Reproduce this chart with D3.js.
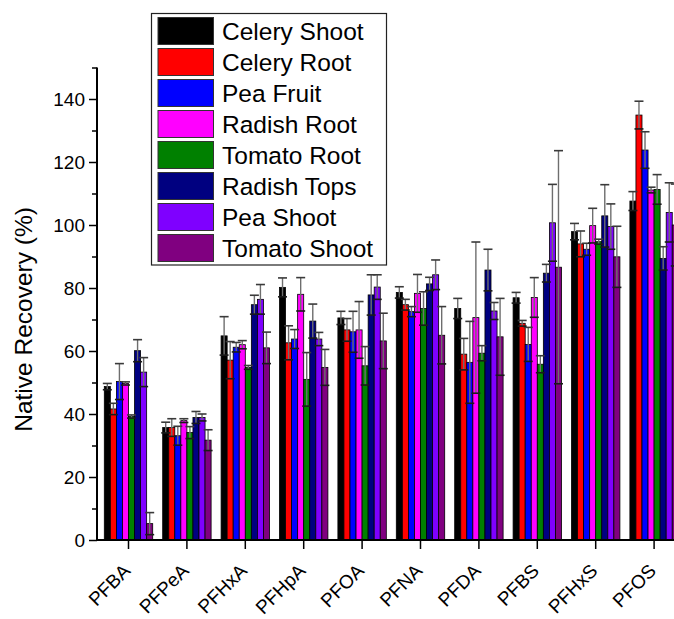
<!DOCTYPE html>
<html>
<head>
<meta charset="utf-8">
<script src="https://cdn.jsdelivr.net/npm/d3@7/dist/d3.min.js"></script>
<style>
  html, body { margin: 0; padding: 0; background: #fff; }
  svg { display: block; font-family: "Liberation Sans", Arial, sans-serif; }
</style>
</head>
<body>
<svg id="chart" width="674" height="619"></svg>
<script>
// Compounds on the x axis
const categories = ["PFBA", "PFPeA", "PFHxA", "PFHpA", "PFOA", "PFNA", "PFDA", "PFBS", "PFHxS", "PFOS"];

// Plant tissues (one bar per tissue in every group)
const series = ["Celery Shoot", "Celery Root", "Pea Fruit", "Radish Root", "Tomato Root", "Radish Tops", "Pea Shoot", "Tomato Shoot"];
const colors = ["#000000", "#ff0000", "#0000ff", "#ff00ff", "#008000", "#000080", "#7f00ff", "#800080"];

// Mean native recovery (%) per tissue, in category order
const celeryShoot = [48.7, 35.7, 64.8, 80.2, 70.5, 78.6, 73.5, 76.9, 97.9, 107.6];
const celeryRoot  = [41.6, 35.7, 57.1, 62.6, 66.7, 74.7, 59.0, 68.8, 94.0, 134.9];
const peaFruit    = [50.3, 33.1, 61.2, 63.8, 66.1, 72.5, 56.4, 62.1, 92.3, 123.8];
const radishRoot  = [49.7, 37.9, 62.0, 78.0, 66.7, 78.3, 70.6, 77.0, 99.8, 111.1];
const tomatoRoot  = [39.2, 34.1, 54.8, 51.0, 55.3, 73.5, 59.3, 55.8, 94.7, 111.3];
const radishTops  = [60.1, 38.9, 74.7, 69.5, 77.8, 81.3, 85.7, 84.7, 102.9, 89.4];
const peaShoot    = [53.3, 38.9, 76.4, 63.8, 80.3, 84.2, 72.7, 100.7, 99.5, 104.0];
const tomatoShoot = [5.2, 31.7, 61.0, 54.8, 63.2, 65.0, 64.5, 86.6, 89.9, 100.0];

// Standard deviations (%)
const celeryShootErr = [1.0, 1.7, 6.1, 3.0, 2.1, 1.8, 3.2, 1.7, 2.6, 3.0];
const celeryRootErr  = [1.8, 2.8, 5.9, 5.4, 3.6, 1.7, 5.0, 0.9, 4.1, 4.4];
const peaFruitErr    = [5.7, 3.0, 1.5, 3.0, 6.5, 1.6, 13.0, 5.4, 1.9, 5.8];
const radishRootErr  = [0.5, 0.6, 1.3, 5.3, 9.0, 6.0, 24.0, 6.3, 5.5, 0.9];
const tomatoRootErr  = [0.5, 1.9, 0.6, 8.5, 6.1, 5.3, 2.4, 2.7, 0.8, 4.7];
const radishTopsErr  = [3.5, 1.9, 3.0, 5.4, 6.4, 2.1, 6.6, 2.8, 9.9, 3.7];
const peaShootErr    = [4.6, 1.1, 4.7, 2.1, 3.9, 4.7, 2.7, 12.2, 7.2, 9.4];
const tomatoShootErr = [3.5, 3.3, 5.0, 5.7, 8.8, 9.1, 12.2, 37.0, 9.7, 13.0];

// Y axis ticks
const yTicks = [0, 20, 40, 60, 80, 100, 120, 140];
const yMinorTicks = [10, 30, 50, 70, 90, 110, 130, 150];

const valueSets = [celeryShoot, celeryRoot, peaFruit, radishRoot, tomatoRoot, radishTops, peaShoot, tomatoShoot];
const errorSets = [celeryShootErr, celeryRootErr, peaFruitErr, radishRootErr, tomatoRootErr, radishTopsErr, peaShootErr, tomatoShootErr];

const rows = [];
categories.forEach((c, ci) => {
  series.forEach((s, si) => {
    rows.push({ cat: c, series: s, color: colors[si], value: valueSets[si][ci], err: errorSets[si][ci] });
  });
});

const svg = d3.select("#chart");
const axisLeft = 97, axisBottom = 540;

const x0 = d3.scaleBand().domain(categories).range([99.3, 683.3]).paddingInner(0.171).paddingOuter(0.0855);
const x1 = d3.scaleBand().domain(series).range([0, x0.bandwidth()]);
const y = d3.scaleLinear().domain([0, 150]).range([axisBottom, 67.5]);

// Bars
const bars = svg.append("g");
bars.selectAll("rect").data(rows).join("rect")
  .attr("x", d => x0(d.cat) + x1(d.series))
  .attr("y", d => y(d.value))
  .attr("width", x1.bandwidth())
  .attr("height", d => y(0) - y(d.value))
  .attr("fill", d => d.color)
  .attr("stroke", "#000")
  .attr("stroke-width", 0.8);

// Error bars
const eb = svg.append("g");
const cx = d => x0(d.cat) + x1(d.series) + x1.bandwidth() / 2;
eb.selectAll("line.v").data(rows).join("line").attr("class", "v")
  .attr("x1", cx).attr("x2", cx)
  .attr("y1", d => y(d.value + d.err)).attr("y2", d => y(Math.max(0, d.value - d.err)))
  .attr("stroke", "#6e6e6e").attr("stroke-width", 1.4);
eb.selectAll("line.top").data(rows).join("line").attr("class", "top")
  .attr("x1", d => cx(d) - 4.5).attr("x2", d => cx(d) + 4.5)
  .attr("y1", d => y(d.value + d.err)).attr("y2", d => y(d.value + d.err))
  .attr("stroke", "#3a3a3a").attr("stroke-width", 1.6);
eb.selectAll("line.bot").data(rows).join("line").attr("class", "bot")
  .attr("x1", d => cx(d) - 4.5).attr("x2", d => cx(d) + 4.5)
  .attr("y1", d => y(Math.max(0, d.value - d.err))).attr("y2", d => y(Math.max(0, d.value - d.err)))
  .attr("stroke", "#1a1a1a").attr("stroke-width", 1.6);

// Y axis
const yAxis = svg.append("g").attr("transform", `translate(${axisLeft},0)`)
  .call(d3.axisLeft(y).tickValues(yTicks).tickSize(8).tickPadding(4).tickFormat(d3.format("d")));
yAxis.select(".domain").remove();
yAxis.selectAll(".tick line").attr("stroke", "#000").attr("stroke-width", 1.5);
yAxis.selectAll(".tick text").attr("font-size", 19).attr("fill", "#000")
  .attr("font-family", "'Liberation Sans', Arial, sans-serif");
const yMinor = svg.append("g").attr("transform", `translate(${axisLeft},0)`)
  .call(d3.axisLeft(y).tickValues(yMinorTicks).tickSize(5).tickFormat(""));
yMinor.select(".domain").remove();
yMinor.selectAll(".tick line").attr("stroke", "#000").attr("stroke-width", 1.5);
svg.append("line")
  .attr("x1", axisLeft).attr("x2", axisLeft)
  .attr("y1", y(150)).attr("y2", axisBottom + 1)
  .attr("stroke", "#000").attr("stroke-width", 2);

// X axis
svg.append("line")
  .attr("x1", axisLeft - 1).attr("x2", 674)
  .attr("y1", axisBottom).attr("y2", axisBottom)
  .attr("stroke", "#000").attr("stroke-width", 2);
const xAxis = svg.append("g").attr("transform", `translate(0,${axisBottom})`)
  .call(d3.axisBottom(x0).tickSize(9).tickFormat(""));
xAxis.select(".domain").remove();
xAxis.selectAll(".tick line").attr("stroke", "#000").attr("stroke-width", 1.5);
xAxis.selectAll(".tick").append("text")
  .text(d => d)
  .attr("text-anchor", "end")
  .attr("font-size", 19)
  .attr("fill", "#000")
  .attr("font-family", "'Liberation Sans', Arial, sans-serif")
  .attr("transform", "translate(3,32) rotate(-45)");

// Y axis title
svg.append("text")
  .attr("transform", `translate(32,${y(70)}) rotate(-90)`)
  .attr("text-anchor", "middle")
  .attr("font-size", 24.5)
  .attr("fill", "#000")
  .text("Native Recovery (%)");

// Legend
const legend = svg.append("g");
legend.append("rect")
  .attr("x", 151.5).attr("y", 13.5).attr("width", 235).attr("height", 251.5)
  .attr("fill", "#fff").attr("stroke", "#222").attr("stroke-width", 1.2);
const items = legend.selectAll("g.item").data(series).join("g").attr("class", "item")
  .attr("transform", (d, i) => `translate(0,${31 + i * 31})`);
items.append("rect")
  .attr("x", 158).attr("y", -13.5).attr("width", 55.5).attr("height", 27)
  .attr("fill", (d, i) => colors[i]).attr("stroke", "#333").attr("stroke-width", 1);
items.append("text")
  .attr("x", 222).attr("y", 0).attr("dy", "0.36em")
  .attr("font-size", 24.5).attr("fill", "#000")
  .text(d => d);
</script>
</body>
</html>
